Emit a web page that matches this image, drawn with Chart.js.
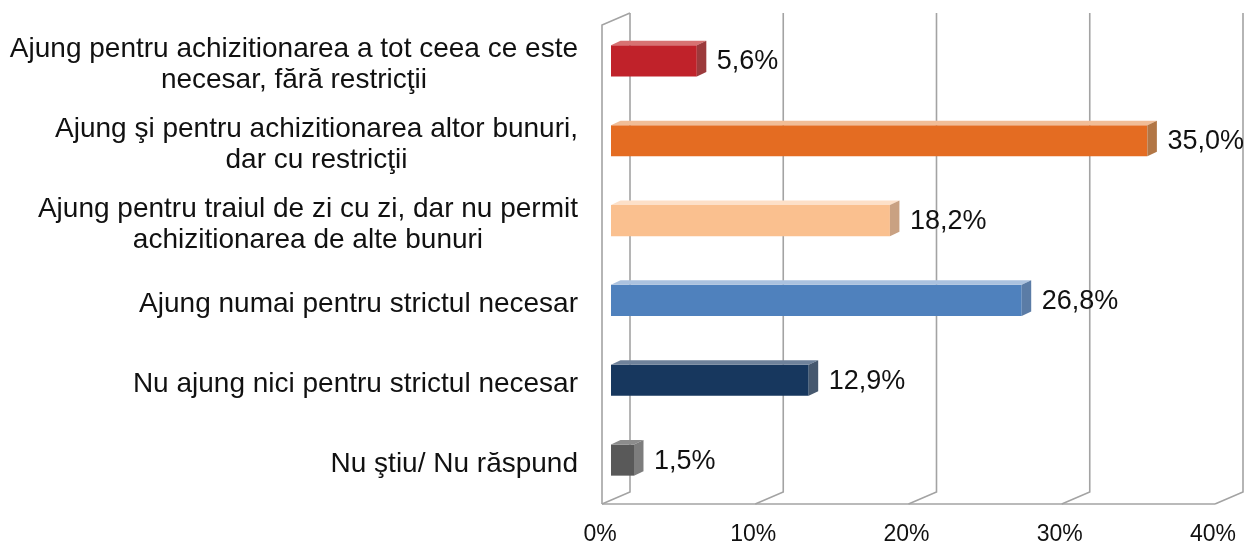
<!DOCTYPE html>
<html>
<head>
<meta charset="utf-8">
<script src="https://cdn.jsdelivr.net/npm/chart.js@4.4.1/dist/chart.umd.min.js"></script>
<style>
  html, body { margin: 0; padding: 0; background: #ffffff; }
  #wrap { width: 1248px; height: 543px; }
</style>
</head>
<body>
<div id="wrap"><canvas id="c" width="1248" height="543"></canvas></div>
<script>
const categories = [
  ["Ajung pentru achizitionarea a tot ceea ce este", "necesar, fără restricţii"],
  ["Ajung şi pentru achizitionarea altor bunuri,", "dar cu restricţii"],
  ["Ajung pentru traiul de zi cu zi, dar nu permit", "achizitionarea de alte bunuri"],
  ["Ajung numai pentru strictul necesar"],
  ["Nu ajung nici pentru strictul necesar"],
  ["Nu ştiu/ Nu răspund"]
];
const values = [5.6, 35.0, 18.2, 26.8, 12.9, 1.5];
const valueLabels = ["5,6%", "35,0%", "18,2%", "26,8%", "12,9%", "1,5%"];
const xTicks = [0, 10, 20, 30, 40];
const xTickLabels = ["0%", "10%", "20%", "30%", "40%"];
const frontColors = ["#c0222a", "#e46c22", "#fac08f", "#4f81bd", "#17375e", "#595959"];
const topColors   = ["#d77272", "#f1bd97", "#fde0c8", "#abc2df", "#6f829b", "#8c8c8c"];
const sideColors  = ["#9c3a3c", "#b27645", "#c9a182", "#5b7ca6", "#46586e", "#7d7d7d"];

const FONT = "'Liberation Sans', Arial, sans-serif";
// pseudo-3D geometry (pixels)
const BAR_TO_FRONT = { dx: -9, dy: 4 };   // bar front plane -> chart front plane
const WALL_DEPTH = { dx: 28, dy: -12 };    // front plane -> back wall
const BAR_DEPTH = { dx: 9.5, dy: -4.5 };   // bar thickness in depth

const gridPlugin = {
  id: 'grid3d',
  beforeDatasetsDraw(chart) {
    const ctx = chart.ctx;
    const xs = chart.scales.x;
    const area = chart.chartArea;
    const fTop = area.top + BAR_TO_FRONT.dy;
    const fBot = area.bottom + BAR_TO_FRONT.dy;
    const fx = v => xs.getPixelForValue(v) + BAR_TO_FRONT.dx;
    ctx.save();
    ctx.strokeStyle = "#a3a3a3";
    ctx.lineWidth = 1.6;
    ctx.lineJoin = "miter";
    // left wall
    ctx.beginPath();
    ctx.moveTo(fx(0), fBot);
    ctx.lineTo(fx(0), fTop);
    ctx.lineTo(fx(0) + WALL_DEPTH.dx, fTop + WALL_DEPTH.dy);
    ctx.stroke();
    // back wall verticals and floor diagonals
    xTicks.forEach(v => {
      const x = fx(v);
      ctx.beginPath();
      ctx.moveTo(x, fBot);
      ctx.lineTo(x + WALL_DEPTH.dx, fBot + WALL_DEPTH.dy);
      ctx.lineTo(x + WALL_DEPTH.dx, fTop + WALL_DEPTH.dy);
      ctx.stroke();
    });
    // floor front edge
    ctx.beginPath();
    ctx.moveTo(fx(xTicks[0]), fBot);
    ctx.lineTo(fx(xTicks[xTicks.length - 1]), fBot);
    ctx.stroke();
    ctx.restore();
  },
  afterDatasetsDraw(chart) {
    const ctx = chart.ctx;
    const meta = chart.getDatasetMeta(0);
    ctx.save();
    meta.data.forEach((bar, i) => {
      const p = bar.getProps(['x', 'y', 'base', 'height'], true);
      const x0 = p.base, x1 = p.x;
      const yT = p.y - p.height / 2, yB = p.y + p.height / 2;
      const d = BAR_DEPTH;
      // top face
      ctx.fillStyle = topColors[i];
      ctx.beginPath();
      ctx.moveTo(x0, yT);
      ctx.lineTo(x1, yT);
      ctx.lineTo(x1 + d.dx, yT + d.dy);
      ctx.lineTo(x0 + d.dx, yT + d.dy);
      ctx.closePath();
      ctx.fill();
      // side face
      ctx.fillStyle = sideColors[i];
      ctx.beginPath();
      ctx.moveTo(x1, yT);
      ctx.lineTo(x1 + d.dx, yT + d.dy);
      ctx.lineTo(x1 + d.dx, yB + d.dy);
      ctx.lineTo(x1, yB);
      ctx.closePath();
      ctx.fill();
      // value label
      ctx.fillStyle = "#111111";
      ctx.font = "27px " + FONT;
      ctx.textAlign = "left";
      ctx.textBaseline = "middle";
      ctx.fillText(valueLabels[i], x1 + 20, p.y + 1);
    });
    // category labels: block right-aligned, lines centred inside block
    const ys = chart.scales.y;
    ctx.font = "28px " + FONT;
    ctx.fillStyle = "#111111";
    ctx.textBaseline = "middle";
    ctx.textAlign = "center";
    const rightEdge = chart.chartArea.left - 33;
    const lh = 31;
    categories.forEach((lines, i) => {
      const cy = ys.getPixelForTick(i) + BAR_TO_FRONT.dy;
      const w = Math.max(...lines.map(l => ctx.measureText(l).width));
      const cx = rightEdge - w / 2;
      const y0 = cy - (lines.length - 1) * lh / 2;
      lines.forEach((l, k) => ctx.fillText(l, cx, y0 + k * lh));
    });
    ctx.restore();
  }
};

new Chart(document.getElementById('c'), {
  type: 'bar',
  data: {
    labels: categories,
    datasets: [{
      data: values,
      backgroundColor: frontColors,
      borderWidth: 0,
      barPercentage: 0.39,
      categoryPercentage: 1.0
    }]
  },
  options: {
    indexAxis: 'y',
    responsive: false,
    animation: false,
    devicePixelRatio: 1,
    layout: { padding: { left: 611, right: 24, top: 21, bottom: 0 } },
    plugins: { legend: { display: false }, tooltip: { enabled: false } },
    scales: {
      y: {
        display: false,
        offset: true
      },
      x: {
        min: 0, max: 40,
        afterFit: s => { s.height = 43; s.paddingLeft = 0; s.paddingRight = 0; },
        afterBuildTicks: s => { s.ticks = xTicks.map(v => ({ value: v })); },
        border: { display: false },
        grid: { display: false, drawTicks: false, tickLength: 0 },
        ticks: {
          padding: 21,
          labelOffset: -11,
          maxRotation: 0,
          autoSkip: false,
          color: "#111111",
          font: { family: FONT, size: 23 },
          callback: (v, i) => xTickLabels[i]
        }
      }
    }
  },
  plugins: [gridPlugin]
});
</script>
</body>
</html>
